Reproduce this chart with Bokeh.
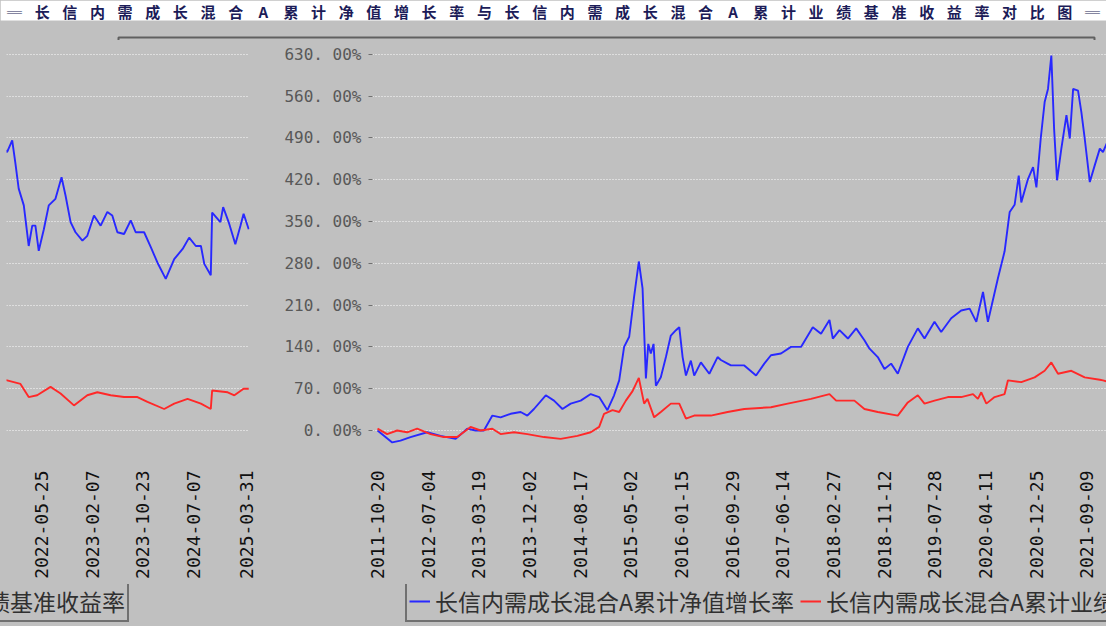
import numpy as np
import pandas as pd
from bokeh.plotting import figure
from bokeh.layouts import column, row
from bokeh.models import (ColumnDataSource, Range1d, FixedTicker, DatetimeTickFormatter,
                          Legend, LegendItem)
from bokeh.core.properties import value
from bokeh.embed import file_html
from bokeh.resources import INLINE

# ---------------- data ----------------
title_text = "长信内需成长混合A累计净值增长率与长信内需成长混合A累计业绩基准收益率对比图"
nav_name = "长信内需成长混合A累计净值增长率"
bench_name = "长信内需成长混合A累计业绩基准收益率"

nav_dates = [
    "2011-10-20", "2012-01-03", "2012-02-14", "2012-04-05", "2012-06-29", "2012-09-05",
    "2012-11-21", "2013-01-19", "2013-03-03", "2013-04-14", "2013-05-27", "2013-07-08",
    "2013-08-28", "2013-10-18", "2013-11-21", "2013-12-25", "2014-02-23", "2014-04-06",
    "2014-05-19", "2014-06-30", "2014-08-20", "2014-10-10", "2014-11-22", "2015-01-03",
    "2015-02-06", "2015-03-04", "2015-03-29", "2015-04-24", "2015-05-19", "2015-06-12",
    "2015-07-01", "2015-07-18", "2015-07-30", "2015-08-12", "2015-08-26", "2015-09-07",
    "2015-10-02", "2015-10-28", "2015-11-22", "2015-12-18", "2016-01-04", "2016-01-21",
    "2016-02-07", "2016-03-03", "2016-03-20", "2016-04-23", "2016-06-05", "2016-07-17",
    "2016-08-03", "2016-09-06", "2016-09-23", "2016-11-30", "2017-01-29", "2017-03-12",
    "2017-04-15", "2017-06-05", "2017-07-26", "2017-09-15", "2017-11-14", "2017-12-26",
    "2018-02-07", "2018-02-24", "2018-03-30", "2018-05-12", "2018-06-23", "2018-08-04",
    "2018-08-30", "2018-10-11", "2018-11-14", "2018-12-18", "2019-01-21", "2019-03-13",
    "2019-05-03", "2019-06-06", "2019-07-27", "2019-08-30", "2019-10-20", "2019-12-10",
    "2020-01-22", "2020-02-25", "2020-03-30", "2020-04-24", "2020-06-14", "2020-07-18",
    "2020-08-13", "2020-09-07", "2020-09-28", "2020-10-11", "2020-11-14", "2020-12-10",
    "2020-12-27", "2021-01-18", "2021-02-07", "2021-02-24", "2021-03-13", "2021-03-27",
    "2021-04-11", "2021-05-03", "2021-05-29", "2021-06-15", "2021-07-02", "2021-07-27",
    "2021-08-13", "2021-08-30", "2021-09-25", "2021-10-20", "2021-11-15",
    "2021-12-01", "2021-12-27", "2022-01-12", "2022-01-29", "2022-02-24", "2022-03-21",
    "2022-04-08", "2022-04-24", "2022-05-11", "2022-06-06", "2022-07-01", "2022-08-04",
    "2022-09-04", "2022-09-24", "2022-10-20", "2022-11-14", "2022-12-19", "2023-01-13",
    "2023-02-16", "2023-03-22", "2023-04-25", "2023-05-20", "2023-06-15", "2023-07-19",
    "2023-08-22", "2023-09-16", "2023-10-29", "2023-12-02", "2024-01-05", "2024-02-16",
    "2024-03-30", "2024-05-12", "2024-06-14", "2024-07-18", "2024-08-13", "2024-08-30",
    "2024-10-02", "2024-10-09", "2024-11-20", "2024-12-04", "2025-01-01", "2025-02-04",
    "2025-03-02", "2025-03-18", "2025-04-13",
]
nav_values = [
    0, -20, -17, -11, -3, -9,
    -14, 3, 0, 0, 25, 22,
    28, 31, 25, 36, 59, 50,
    36, 45, 50, 61, 56, 34,
    59, 84, 140, 157, 224, 283,
    238, 87, 145, 129, 145, 75,
    89, 123, 159, 168, 173, 123,
    92, 117, 92, 114, 95, 123,
    118, 112, 109, 109, 92, 112,
    126, 129, 140, 140, 173, 162,
    185, 154, 168, 154, 171, 151,
    137, 123, 103, 112, 95, 140,
    171, 154, 182, 165, 188, 201,
    204, 182, 232, 182, 255, 300,
    366, 378, 427, 382, 421, 441,
    407, 489, 550, 572, 628, 506,
    419, 472, 528, 489, 572, 569,
    533, 489, 416, 444, 472,
    466, 486, 448, 405, 377, 309,
    343, 343, 301, 337, 377, 388,
    424, 394, 349, 332, 318, 326,
    360, 343, 366, 360, 332, 329,
    352, 332, 332, 307, 281, 254,
    287, 304, 323, 309, 309, 279,
    260, 365, 349, 374, 349, 312,
    343, 363, 337,
]

bench_dates = [
    "2011-10-20", "2011-12-08", "2012-01-28", "2012-03-19", "2012-05-09", "2012-07-16",
    "2012-09-22", "2012-11-29", "2013-02-05", "2013-03-28", "2013-05-27", "2013-07-08",
    "2013-09-14", "2013-11-21", "2014-02-14", "2014-05-10", "2014-08-03", "2014-10-10",
    "2014-11-22", "2014-12-17", "2015-01-29", "2015-03-04", "2015-04-07", "2015-05-11",
    "2015-06-12", "2015-07-09", "2015-07-26", "2015-08-29", "2015-10-02", "2015-11-22",
    "2016-01-04", "2016-02-07", "2016-03-20", "2016-06-13", "2016-09-06", "2016-11-30",
    "2017-04-15", "2017-07-09", "2017-11-05", "2018-02-07", "2018-03-13", "2018-06-14",
    "2018-08-04", "2018-10-11", "2019-01-21", "2019-03-13", "2019-05-03", "2019-06-06",
    "2019-07-27", "2019-10-03", "2019-12-10", "2020-02-08", "2020-03-04", "2020-03-21",
    "2020-04-16", "2020-05-28", "2020-07-18", "2020-08-04", "2020-10-11", "2020-12-18",
    "2021-02-07", "2021-03-13", "2021-04-16", "2021-06-23", "2021-08-30", "2021-11-15",
    "2021-12-01", "2022-02-07", "2022-03-21", "2022-05-03", "2022-07-10", "2022-08-30",
    "2022-11-06", "2023-01-13", "2023-03-05", "2023-05-12", "2023-07-19", "2023-09-25",
    "2023-11-15", "2024-02-08", "2024-03-30", "2024-06-06", "2024-08-13", "2024-10-02",
    "2024-10-09", "2024-12-27", "2025-01-30", "2025-03-18", "2025-04-13",
]
bench_values = [
    3, -6, 0, -3, 3, -6,
    -11, -11, 6, 0, 3, -6,
    -3, -6, -11, -14, -9, -3,
    6, 28, 34, 31, 50, 66,
    88, 45, 53, 22, 31, 45,
    45, 20, 25, 25, 31, 36,
    39, 45, 53, 61, 50, 50,
    36, 31, 25, 47, 59, 45,
    50, 56, 56, 61, 53, 64,
    45, 56, 61, 84, 81, 89,
    100, 114, 95, 100, 89, 85,
    84, 78, 56, 59, 73, 62,
    42, 59, 64, 59, 56, 56,
    48, 36, 45, 53, 45, 36,
    67, 64, 59, 70, 70,
]

x_tick_labels = [
    "2011-10-20", "2012-07-04", "2013-03-19", "2013-12-02", "2014-08-17", "2015-05-02",
    "2016-01-15", "2016-09-29", "2017-06-14", "2018-02-27", "2018-11-12", "2019-07-28",
    "2020-04-11", "2020-12-25", "2021-09-09", "2022-05-25", "2023-02-07", "2023-10-23",
    "2024-07-07", "2025-03-31",
]
y_ticks = [0, 70, 140, 210, 280, 350, 420, 490, 560, 630]
y_tick_labels = ["0. 00%", "70. 00%", "140. 00%", "210. 00%", "280. 00%", "350. 00%",
                 "420. 00%", "490. 00%", "560. 00%", "630. 00%"]

# ---------------- styling ----------------
BG = "#C0C0C0"
BLUE = "#2828FF"
RED = "#FF2828"
Y_RANGE = (-33.5, 653.1)

nav_src = ColumnDataSource(dict(x=pd.to_datetime(nav_dates), y=nav_values))
bench_src = ColumnDataSource(dict(x=pd.to_datetime(bench_dates), y=bench_values))
x_ticks_ms = [pd.Timestamp(s).value // 10**6 for s in x_tick_labels]
fmt = "%Y-%m-%d"
date_formatter = DatetimeTickFormatter(
    microseconds=fmt, milliseconds=fmt, seconds=fmt, minsec=fmt, minutes=fmt,
    hourmin=fmt, hours=fmt, days=fmt, months=fmt, years=fmt)

TITLE_H = 40
ROW_H = 544
LEG_H = 42
BOTTOM = 134


def make_panel(width, x_start, x_end, border_left, border_right):
    p = figure(width=width, height=ROW_H, x_axis_type="datetime",
               x_range=Range1d(pd.Timestamp(x_start), pd.Timestamp(x_end)),
               y_range=Range1d(*Y_RANGE),
               output_backend="svg", toolbar_location=None,
               min_border_left=border_left, min_border_right=border_right,
               min_border_top=0, min_border_bottom=BOTTOM)
    p.background_fill_color = None
    p.border_fill_color = BG
    p.outline_line_color = None
    p.xgrid.visible = False
    p.ygrid.ticker = FixedTicker(ticks=y_ticks)
    p.ygrid.grid_line_color = "white"
    p.ygrid.grid_line_dash = "1 2"
    p.ygrid.grid_line_width = 1
    p.ygrid.grid_line_alpha = 0.95
    xa = p.xaxis[0]
    xa.ticker = FixedTicker(ticks=x_ticks_ms)
    xa.formatter = date_formatter
    xa.major_label_orientation = np.pi / 2
    xa.major_label_text_font = "DejaVu Sans Mono"
    xa.major_label_text_font_size = "18px"
    xa.major_label_text_color = "#101010"
    xa.major_label_standoff = 20
    xa.major_tick_out = 0
    xa.major_tick_in = 0
    xa.minor_tick_out = 0
    xa.minor_tick_in = 0
    xa.axis_line_color = None
    ya = p.yaxis[0]
    ya.ticker = FixedTicker(ticks=y_ticks)
    ya.major_label_overrides = {t: s for t, s in zip(y_ticks, y_tick_labels)}
    ya.major_label_text_font = "DejaVu Sans Mono"
    ya.major_label_text_font_size = "16px"
    ya.major_label_text_color = "#585858"
    ya.major_label_standoff = 7
    ya.major_tick_out = 4
    ya.major_tick_in = 0
    ya.major_tick_line_color = "#707070"
    ya.minor_tick_out = 0
    ya.minor_tick_in = 0
    ya.axis_line_color = None
    p.line("x", "y", source=nav_src, line_color=BLUE, line_width=1.9)
    p.line("x", "y", source=bench_src, line_color=RED, line_width=1.9)
    return p


# right panel: 2011-10 .. 2021-12 with the y axis
right = make_panel(844, "2011-09-24 12:00", "2021-12-19", 110, 0)
# left panel: wrapped continuation 2021-11 .. 2025-04
left = make_panel(262, "2021-11-28", "2025-04-17", 6, 13)
left.yaxis[0].visible = False


def plain_fig(h, fill):
    f = figure(width=1106, height=h, x_range=(0, 1106), y_range=(0, h),
               output_backend="svg", toolbar_location=None,
               min_border=0, x_axis_location=None, y_axis_location=None)
    f.background_fill_color = None
    f.border_fill_color = fill
    f.outline_line_color = None
    f.grid.visible = False
    return f


# title strip
tfig = plain_fig(TITLE_H, BG)
tfig.quad(left=[0], right=[1106], bottom=[TITLE_H - 20], top=[TITLE_H],
          fill_color="white", line_color=None)
chars = ["═"] + list(title_text) + ["═"]
tx = np.linspace(14, 1092, len(chars))
tfig.text(x=tx, y=[TITLE_H - 11] * len(chars), text=chars, text_align="center",
          text_baseline="middle", text_font=value("Noto Sans CJK SC"),
          text_font_size="15px", text_font_style="bold", text_color="#1c1c58")
tfig.line(x=[118, 118, 1094, 1094], y=[0, 3, 3, 0], line_color="#606060", line_width=2)

# legend strip (wrapped like the chart); the series lie far outside this strip's
# numeric x range, so only their legend glyphs are seen here
lfig = plain_fig(LEG_H, BG)
lb = lfig.line("x", "y", source=nav_src, line_color=BLUE, line_width=2)
lr = lfig.line("x", "y", source=bench_src, line_color=RED, line_width=2)
for xo in (405, 405 - 1106):
    lg = Legend(items=[LegendItem(label=nav_name, renderers=[lb]),
                       LegendItem(label=bench_name, renderers=[lr])],
                orientation="horizontal", location=(xo, 4))
    lg.label_text_font = "Noto Sans CJK SC"
    lg.label_text_font_size = "23px"
    lg.label_text_color = "#303030"
    lg.border_line_color = "#202020"
    lg.border_line_width = 2
    lg.background_fill_color = BG
    lg.background_fill_alpha = 1
    lg.padding = 2
    lg.spacing = 6
    lg.glyph_width = 21
    lg.glyph_height = 20
    lg.label_height = 20
    lg.label_standoff = 5
    lg.margin = 0
    lfig.add_layout(lg, "center")

layout = column(tfig, row(left, right, spacing=0, styles={"background-color": BG}),
                lfig, spacing=0, styles={"background-color": BG})

open("out.html", "w").write(file_html(layout, INLINE))
